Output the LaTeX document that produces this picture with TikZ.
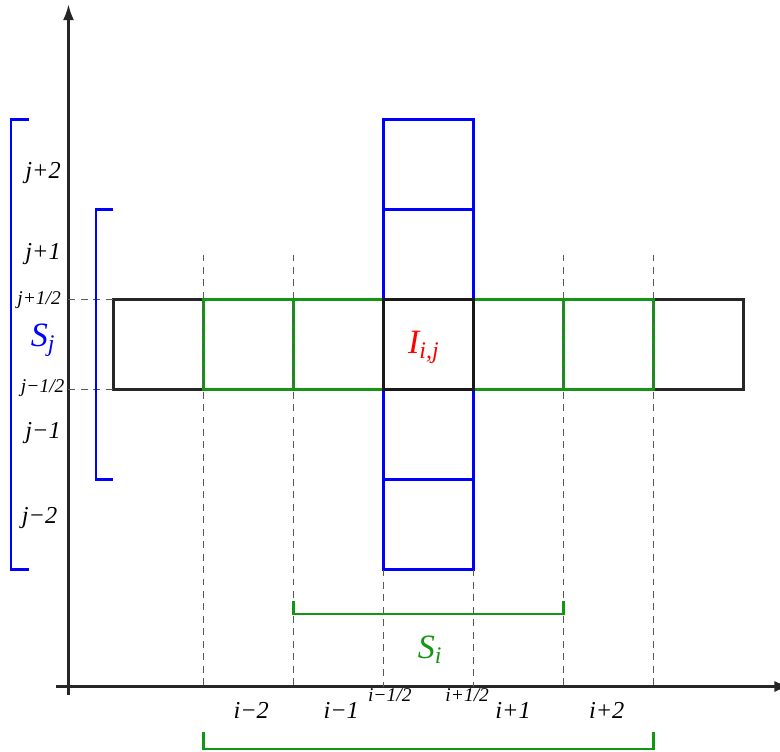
\documentclass[tikz,border=0pt]{standalone}
\usepackage{fontspec}
\setmainfont{Liberation Serif}
\usepackage{xcolor}
\usepackage{tikz}
\usetikzlibrary{arrows.meta}
\definecolor{cellblue}{RGB}{0,0,255}
\definecolor{cellgreen}{RGB}{20,150,20}
\definecolor{cellred}{RGB}{255,0,0}

\begin{document}
\begin{tikzpicture}[x=1.3cm, y=1.3cm,
  every node/.style={font=\fontsize{10}{12}\selectfont\itshape, inner sep=0pt},
  halflabel/.style={font=\fontsize{8}{10}\selectfont\itshape},
  biglabel/.style={font=\fontsize{14}{16}\selectfont\itshape},
  guide/.style={black!65, line width=0.7pt, dash pattern=on 1mm off 0.8mm},
  cellline/.style={line width=0.9pt},
  axisline/.style={line width=0.9pt, black!85, -{Latex[length=2.3mm,width=1.6mm]}}
]
\useasboundingbox (-0.761,-0.717) rectangle (7.906,7.628);

% axes
\coordinate (xa) at (-0.14,0);
\coordinate (xb) at (8.02,0);
\coordinate (ya) at (0,-0.09);
\coordinate (yb) at (0,7.58);
\draw[axisline] (xa) -- (xb);
\draw[axisline] (ya) -- (yb);

% row of cells along i
\draw[cellline, draw=black!85] (1.5,3.3) -- (0.5,3.3) -- (0.5,4.3) -- (1.5,4.3);
\draw[cellline, draw=black!85] (6.5,3.3) -- (7.5,3.3) -- (7.5,4.3) -- (6.5,4.3);
\foreach \x in {1.5,2.5,4.5,5.5}
  \draw[cellline, draw=cellgreen] (\x,3.3) rectangle ++(1,1);

% column of cells along j
\foreach \y in {1.3,2.3,4.3,5.3}
  \draw[cellline, draw=cellblue] (3.5,\y) rectangle ++(1,1);
\draw[cellline, draw=black!90] (3.5,3.3) rectangle (4.5,4.3);

% dashed guides
\foreach \x in {1.5,2.5,5.5,6.5} \draw[guide] (\x,4.8) -- (\x,0);
\foreach \x in {3.5,4.5} \draw[guide] (\x,1.3) -- (\x,0);
\foreach \y in {3.3,4.3} \draw[guide] (0,\y) -- (0.5,\y);

% stencils
\draw[cellline, draw=cellblue] (-0.44,6.3) -- (-0.637,6.3) -- (-0.637,1.3) -- (-0.44,1.3);
\draw[cellline, draw=cellblue] (0.5,5.3) -- (0.31,5.3) -- (0.31,2.3) -- (0.5,2.3);
\draw[cellline, draw=cellgreen] (2.5,0.95) -- (2.5,0.81) -- (5.5,0.81) -- (5.5,0.95);
\draw[cellline, draw=cellgreen] (1.5,-0.5) -- (1.5,-0.69) -- (6.5,-0.69) -- (6.5,-0.5);

% labels
\foreach \x/\y/\t/\n in {-0.08/5.71/j+2/jpp, -0.08/4.8/j+1/jp, -0.08/2.82/j−1/jm, -0.12/1.87/j−2/jmm}
  \node[anchor=east] (\n) at (\x,\y) {\t};
\node[halflabel, anchor=east] (jph) at (-0.08,4.29) {j+1/2};
\node[halflabel, anchor=east] (jmh) at (-0.04,3.31) {j−1/2};

\foreach \x/\t/\n in {2.03/i−2/imm, 3.03/i−1/im, 4.94/i+1/ip, 5.98/i+2/ipp}
  \node (\n) at (\x,-0.27) {\t};
\node[halflabel] (imh) at (3.57,-0.1) {i−1/2};
\node[halflabel] (iph) at (4.43,-0.1) {i+1/2};

\node[biglabel, cellblue] (sj) at (-0.28,3.85) {S\textsubscript{j}};
\node[biglabel, cellgreen] (si) at (4.02,0.41) {S\textsubscript{i}};
\node[biglabel, cellred] (iij) at (3.95,3.77) {I\textsubscript{i,j}};
\end{tikzpicture}
\end{document}
